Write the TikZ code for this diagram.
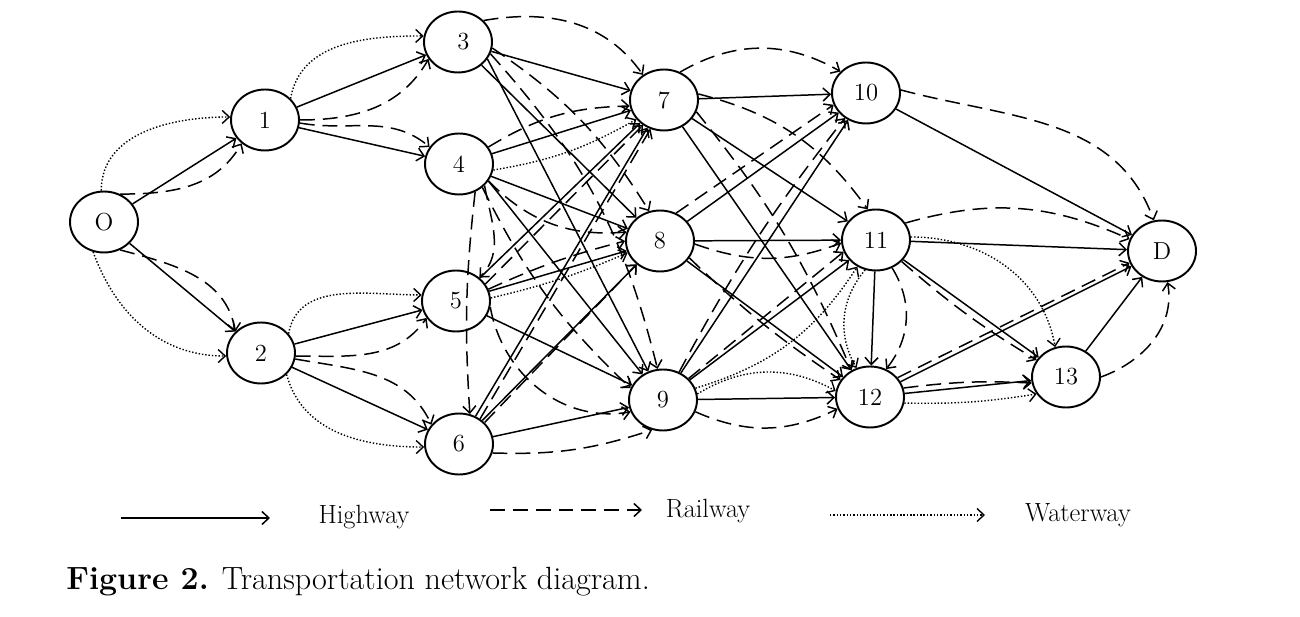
\documentclass[tikz,border=0pt]{standalone}
\usetikzlibrary{shapes.geometric,arrows.meta}
\begin{document}
\begin{tikzpicture}[x=0.02cm,y=-0.02cm,
  nd/.style={ellipse,draw,line width=1.1pt,minimum width=1.36cm,minimum height=1.22cm,inner sep=0pt,font=\fontsize{14}{16}\selectfont},
  tip/.style={-{Straight Barb[length=1.4mm,width=2.6mm]}},
  hw/.style={tip,line width=0.85pt},
  rw/.style={tip,line width=0.85pt,dash pattern=on 8.5pt off 4.5pt},
  ww/.style={tip,line width=0.8pt,dash pattern=on 0.8pt off 1.1pt},
  lab/.style={font=\fontsize{15}{17}\selectfont,anchor=base}]
\useasboundingbox (0,0) rectangle (1300,617);
\node[nd] (O) at (104,222) {O};
\node[nd] (n1) at (265,120) {1};
\node[nd] (n2) at (261,353) {2};
\node[nd] (n3) at (458,42) {\hspace{6pt}3};
\node[nd] (n4) at (459,164) {4};
\node[nd] (n5) at (456,301) {5};
\node[nd] (n6) at (459,444) {6};
\node[nd] (n7) at (664,100) {7};
\node[nd] (n8) at (660,241) {8};
\node[nd] (n9) at (663,400) {9};
\node[nd] (n10) at (866,93) {10};
\node[nd] (n11) at (876,240) {11};
\node[nd] (n12) at (870,397) {12};
\node[nd] (n13) at (1066,377) {13};
\node[nd] (D) at (1162,251) {D};
% O
\draw[hw] (O) -- (n1);
\draw[rw] (O.60) to[out=0,in=240] (n1.225);
\draw[ww] (O.95) to[out=90,in=180] (n1.175);
\draw[hw] (O) -- (n2);
\draw[rw] (O.-60) to[out=-15,in=100] (n2.140);
\draw[ww] (O.-110) to[out=-70,in=180] (n2.185);
% 1,2
\draw[hw] (n1) -- (n3);
\draw[rw] (n1.0) to[out=0,in=240] (n3.210);
\draw[ww] (n1.40) to[out=80,in=180] (n3.170);
\draw[hw] (n1) -- (n4);
\draw[rw] (n1.-5) to[out=-10,in=140] (n4.150);
\draw[hw] (n2) -- (n5);
\draw[rw] (n2.-5) to[out=0,in=235] (n5.210);
\draw[ww] (n2.35) to[out=80,in=180] (n5.170);
\draw[hw] (n2) -- (n6);
\draw[rw] (n2.-10) to[out=-10,in=115] (n6.145);
\draw[ww] (n2.-40) to[out=-75,in=180] (n6.185);
% 3
\draw[hw] (n3) -- (n7);
\draw[rw] (n3.40) to[out=10,in=125] (n7.130);
\draw[hw] (n3) -- (n8);
\draw[rw] (n3.-10) to[bend left=12] (n8.110);
\draw[hw] (n3.-30) -- (n9);
\draw[rw] (n3.-20) to[bend left=14] (n9.100);
% 4
\draw[hw] (n4) -- (n7);
\draw[rw] (n4.30) to[bend left=15] (n7.190);
\draw[ww] (n4.-10) to[bend right=10] (n7.215);
\draw[hw] (n4) -- (n8);
\draw[rw] (n4.-30) to[bend right=25] (n8.165);
\draw[hw] (n4.-30) -- (n9);
\draw[rw] (n4.-40) to[out=-80,in=45] (n5.45);
\draw[rw] (n4.-45) to[bend right=10] (n9.160);
% 5
\draw[hw] (n5) -- (n7);
\draw[rw] (n5.30) -- (n7.230);
\draw[hw] (n5) -- (n8);
\draw[rw] (n5.20) to[bend left=5] (n8.180);
\draw[ww] (n5.5) to[bend right=5] (n8.200);
\draw[hw] (n5) -- (n9);
\draw[rw] (n5.-10) to[out=-80,in=190] (n9.200);
% 6
\draw[hw] (n6) -- (n7);
\draw[rw] (n6.50) -- (n7.245);
\draw[hw] (n6) -- (n8);
\draw[rw] (n6.40) -- (n8.225);
\draw[hw] (n6) -- (n9);
\draw[rw] (n6.-15) to[bend right=10] (n9.-110);
\draw[rw] (n4.-60) to[bend right=5] (n6.70);
% 7
\draw[hw] (n7) -- (n10);
\draw[rw] (n7.60) to[bend left=30] (n10.140);
\draw[hw] (n7) -- (n11);
\draw[rw] (n7.10) to[bend left=20] (n11.105);
\draw[hw] (n7) -- (n12);
\draw[rw] (n7.-20) to[bend left=8] (n12.125);
% 8
\draw[hw] (n8) -- (n10);
\draw[rw] (n8.60) -- (n10.200);
\draw[hw] (n8) -- (n11);
\draw[rw] (n8.-5) to[bend right=20] (n11.185);
\draw[hw] (n8) -- (n12);
\draw[rw] (n8.-30) to[bend right=5] (n12.150);
% 9
\draw[hw] (n9) -- (n10);
\draw[rw] (n9.60) to[bend left=5] (n10.230);
\draw[hw] (n9) -- (n11);
\draw[rw] (n9.40) -- (n11.200);
\draw[ww] (n9.20) to[bend right=20] (n11.235);
\draw[hw] (n9) -- (n12);
\draw[rw] (n9.-20) to[bend right=25] (n12.200);
\draw[ww] (n9.10) to[bend left=30] (n12.170);
% 10,11,12,13
\draw[hw] (n10) -- (D);
\draw[rw] (n10.5) to[out=-15,in=110] (D.105);
\draw[hw] (n11) -- (D);
\draw[rw] (n11.30) to[bend left=20] (D.160);
\draw[hw] (n11) -- (n12);
\draw[rw] (n11.-60) to[bend left=35] (n12.60);
\draw[ww] (n11.-110) to[bend right=35] (n12.115);
\draw[hw] (n11) -- (n13);
\draw[rw] (n11.-40) to[bend right=5] (n13.150);
\draw[ww] (n11.5) to[out=0,in=100] (n13.110);
\draw[hw] (n12) -- (D);
\draw[rw] (n12.35) -- (D.200);
\draw[hw] (n12) -- (n13);
\draw[rw] (n12.15) to[bend left=5] (n13.190);
\draw[ww] (n12.-10) to[bend right=5] (n13.210);
\draw[hw] (n13) -- (D);
\draw[rw] (n13.0) to[out=20,in=-80] (D.-80);
% legend
\coordinate (h1) at (121,518); \coordinate (h2) at (270,518);
\coordinate (r1) at (490,510); \coordinate (r2) at (642,510);
\coordinate (w1) at (830,515); \coordinate (w2) at (985,515);
\draw[hw] (h1) -- (h2);
\draw[rw] (r1) -- (r2);
\draw[ww] (w1) -- (w2);
\node[lab] (lh) at (364,523) {Highway};
\node[lab] (lr) at (708,517) {Railway};
\node[lab] (lw) at (1078,521) {Waterway};
\node[anchor=base west,font=\fontsize{18.3}{21}\selectfont,inner sep=0pt] (cap) at (66,589) {\textbf{Figure 2.} Transportation network diagram.};
\end{tikzpicture}
\end{document}
